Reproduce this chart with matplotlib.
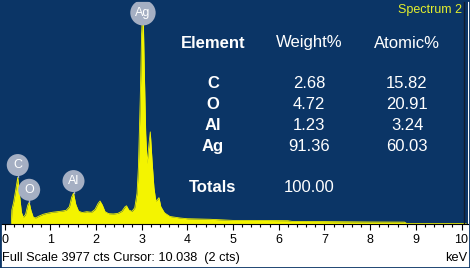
import matplotlib
matplotlib.use("Agg")
import matplotlib.pyplot as plt
from matplotlib.patches import Rectangle
from matplotlib.ticker import MultipleLocator

plt.rcParams['font.family'] = ['Liberation Sans', 'DejaVu Sans']

# spectrum (keV, counts)
energy = [0.15, 0.16, 0.20, 0.25, 0.29, 0.33, 0.37, 0.41, 0.46, 0.51, 0.54, 0.58,
          0.63, 0.68, 0.75, 0.85, 0.95, 1.05, 1.15, 1.25, 1.35, 1.42, 1.47, 1.51,
          1.56, 1.62, 1.70, 1.80, 1.90, 1.98, 2.05, 2.09, 2.14, 2.20, 2.28, 2.38,
          2.48, 2.57, 2.64, 2.67, 2.72, 2.79, 2.85, 2.90, 2.93, 2.97, 3.00, 3.03,
          3.06, 3.09, 3.12, 3.16, 3.19, 3.23, 3.27, 3.31, 3.35, 3.38, 3.42, 3.50,
          3.62, 3.84, 4.0, 4.5, 5.0, 5.5, 6.2, 6.3, 7.0, 8.0, 8.75, 8.8, 10.1]
counts = [0, 240, 380, 620, 820, 500, 200, 110, 160, 330, 375, 230,
          110, 100, 130, 165, 185, 200, 210, 220, 235, 300, 470, 540,
          340, 220, 195, 210, 200, 250, 360, 400, 330, 210, 175, 170,
          180, 220, 300, 315, 240, 215, 280, 540, 1000, 2200, 3380, 3940,
          2700, 1600, 1070, 1400, 1630, 1100, 640, 400, 430, 460, 300, 190,
          125, 98, 85, 75, 55, 55, 50, 36, 34, 27, 25, 0, 0]

full_scale = 3977

peak_names = ['C', 'O', 'Al', 'Ag']
peak_energy = [0.29, 0.54, 1.51, 3.03]
peak_top = [820, 375, 540, 3940]
label_y = [1040, 600, 755, 3750]

elements = ['C', 'O', 'Al', 'Ag']
weight_pct = ['2.68', '4.72', '1.23', '91.36']
atomic_pct = ['15.82', '20.91', '3.24', '60.03']
total_weight = '100.00'

bg = '#0b3566'
yellow = '#f4f400'
bubble = '#a5afc3'

fig = plt.figure(figsize=(4.70, 2.68), dpi=100)
ax = fig.add_axes([0, 44.5 / 268, 468 / 470, 223.5 / 268])
ax.set_facecolor(bg)
ax.fill_between(energy, counts, 0, color=yellow, lw=0)
ax.plot(energy, counts, color=yellow, lw=0.6)
ax.set_xlim(-4.5 / 45.7, 463.5 / 45.7)
ax.set_ylim(0, full_scale)
ax.axvline(10.055, color='#111c2e', lw=1)

for s in ['top', 'left', 'right']:
    ax.spines[s].set_visible(False)
ax.spines['bottom'].set_color('black')
ax.spines['bottom'].set_linewidth(0.8)
ax.set_yticks([])
ax.xaxis.set_major_locator(MultipleLocator(1))
ax.xaxis.set_minor_locator(MultipleLocator(0.2))
ax.tick_params(axis='x', which='major', direction='out', length=4.5, width=0.8,
               pad=3, labelsize=9, colors='black')
ax.tick_params(axis='x', which='minor', direction='out', length=2.5, width=0.8)

# peak markers
for name, e, top, ly in zip(peak_names, peak_energy, peak_top, label_y):
    ax.plot([e, e], [min(top, ly), ly], color=bubble, lw=1, zorder=3)
    ax.text(e, ly, name, color='white', fontsize=9, ha='center', va='center', zorder=4,
            bbox=dict(boxstyle='circle,pad=0.4', fc=bubble, ec='none'))

# results table
def px(x, y):
    return x / 470, 1 - y / 268

tx = [213, 309, 407]
fig.text(*px(tx[0], 43), 'Element', color='white', fontsize=12, fontweight='bold', ha='center', va='center')
fig.text(*px(tx[1], 43), 'Weight%', color='white', fontsize=12, ha='center', va='center')
fig.text(*px(tx[2], 43), 'Atomic%', color='white', fontsize=12, ha='center', va='center')
for i, (el, w, a) in enumerate(zip(elements, weight_pct, atomic_pct)):
    yy = 83 + i * 21.3
    fig.text(*px(tx[0], yy), el, color='white', fontsize=12, fontweight='bold', ha='center', va='center')
    fig.text(*px(tx[1], yy), w, color='white', fontsize=12, ha='center', va='center')
    fig.text(*px(tx[2], yy), a, color='white', fontsize=12, ha='center', va='center')
fig.text(*px(tx[0], 188), 'Totals', color='white', fontsize=12, fontweight='bold', ha='center', va='center')
fig.text(*px(tx[1], 188), total_weight, color='white', fontsize=12, ha='center', va='center')

fig.text(*px(462, 10), 'Spectrum 2', color='#e4ef2c', fontsize=9, ha='right', va='center')

fig.text(*px(2, 258), 'Full Scale 3977 cts Cursor: 10.038  (2 cts)', color='black',
         fontsize=9.2, ha='left', va='center')
fig.text(*px(467, 258), 'keV', color='black', fontsize=9.2, ha='right', va='center')

fig.patches.append(Rectangle((0, 0), 1, 1, transform=fig.transFigure, fill=False,
                             ec=bg, lw=2))

fig.savefig('out.png', dpi=100, facecolor='white')
